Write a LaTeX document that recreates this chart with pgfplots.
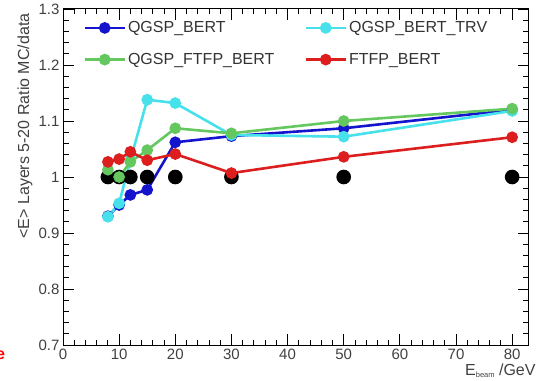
\documentclass[border=0pt]{standalone}
\usepackage{fontspec}
\setmainfont{Liberation Sans}
\usepackage{pgfplots}
\pgfplotsset{compat=1.18}
\definecolor{cblue}{RGB}{20,20,205}
\definecolor{ccyan}{RGB}{70,225,235}
\definecolor{cgreen}{RGB}{100,200,95}
\definecolor{cred}{RGB}{220,30,30}
\begin{document}
\begin{tikzpicture}[x=1pt,y=1pt]
\useasboundingbox (0,0) rectangle (537,380);
\clip (0,0) rectangle (537,380);
\begin{axis}[
  at={(63pt,35pt)}, anchor=south west,
  scale only axis, width=466pt, height=336pt,
  xmin=0, xmax=83, ymin=0.7, ymax=1.3,
  xtick={0,10,...,80}, minor x tick num=4,
  ytick={0.7,0.8,0.9,1,1.1,1.2,1.3},
  yticklabels={0.7,0.8,0.9,1,1.1,1.2,1.3},
  minor y tick num=4,
  tick align=inside, major tick length=11pt, minor tick length=5.5pt,
  tick style={black, line width=0.9pt},
  axis line style={line width=1pt},
  /pgf/number format/assume math mode=true,
  tick label style={font=\fontsize{15}{17}\selectfont, text=black!75},
  legend columns=2, legend cell align=left,
  legend style={at={(rel axis cs:0.037,0.975)}, anchor=north west, draw=none, fill=none,
    font=\fontsize{16}{18}\selectfont, text=black!80, row sep=15pt,
    /tikz/every even column/.append style={column sep=28pt}},
  legend image code/.code={\draw[mark repeat=2,mark phase=2,#1] plot coordinates {(0pt,0pt) (20pt,0pt) (40pt,0pt)};},
  every axis plot/.append style={line width=2.6pt, mark=*, mark size=4.5pt},
]
\addplot[black, only marks, mark size=6pt, forget plot] coordinates {(8,1) (10,1) (12,1) (15,1) (20,1) (30,1) (50,1) (80,1)};
\addplot[cblue, mark options={fill=cblue}] coordinates {(8,0.93) (10,0.95) (12,0.968) (15,0.977) (20,1.062) (30,1.073) (50,1.087) (80,1.12)};
\addlegendentry{QGSP\_BERT}
\addplot[ccyan, mark options={fill=ccyan}] coordinates {(8,0.929) (10,0.953) (12,1.03) (15,1.138) (20,1.132) (30,1.075) (50,1.072) (80,1.118)};
\addlegendentry{QGSP\_BERT\_TRV}
\addplot[cgreen, mark options={fill=cgreen}] coordinates {(8,1.013) (10,1.0) (12,1.027) (15,1.048) (20,1.087) (30,1.078) (50,1.1) (80,1.122)};
\addlegendentry{QGSP\_FTFP\_BERT}
\addplot[cred, mark options={fill=cred}] coordinates {(8,1.027) (10,1.032) (12,1.045) (15,1.03) (20,1.041) (30,1.007) (50,1.036) (80,1.071)};
\addlegendentry{FTFP\_BERT}
\end{axis}
\node[rotate=90, anchor=east, text=black!75, font=\fontsize{16}{18}\selectfont] at (25,370) {<E> Layers 5-20 Ratio MC/data};
\node[anchor=base west, inner sep=0pt, text=black!75, font=\fontsize{16}{18}\selectfont] at (465,5) {E{\fontsize{7.5}{8}\selectfont\raisebox{-2.5pt}{beam}} /GeV};
\node[anchor=base west, inner sep=0pt, text=red, font=\bfseries\fontsize{16}{18}\selectfont] at (-4,21) {e};
\end{tikzpicture}
\end{document}
